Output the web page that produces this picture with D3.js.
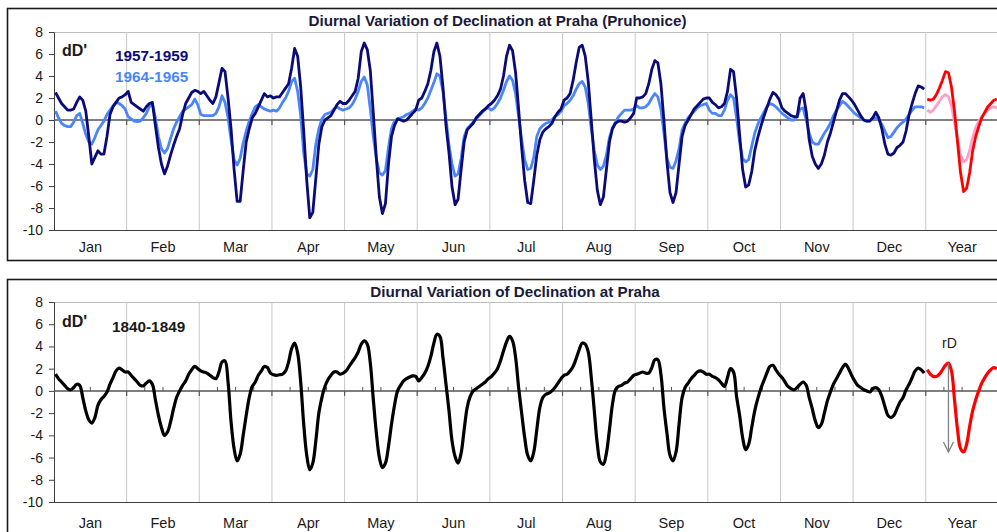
<!DOCTYPE html>
<html>
<head>
<meta charset="utf-8">
<script src="https://cdn.jsdelivr.net/npm/d3@7"></script>
<style>
  body { margin: 0; background: #fff; }
  svg { display: block; font-family: Arial, "Liberation Sans", sans-serif; }
</style>
</head>
<body>
<svg id="chart" width="997" height="532"></svg>
<script>
// month categories, 24 hourly values per month (+ yearly mean)
const months = ['Jan', 'Feb', 'Mar', 'Apr', 'May', 'Jun', 'Jul', 'Aug', 'Sep', 'Oct', 'Nov', 'Dec', 'Year'];
const yTicks = [8, 6, 4, 2, 0, -2, -4, -6, -8, -10];

// 1957-1959, Pruhonice (dark blue), Jan..Dec
const dark5759 = [
  [2.5, 2.0, 1.5, 1.2, 0.9, 0.9, 1.0, 1.6, 2.1, 1.8, 0.8, -1.5, -4.0, -3.4, -2.8, -3.1, -3.1, -1.5, 0.5, 1.2, 1.6, 2.0, 2.1, 2.3],
  [2.6, 1.6, 1.4, 1.2, 1.0, 0.8, 1.2, 1.5, 1.6, -0.5, -2.5, -4.0, -4.9, -4.2, -3.2, -2.3, -1.5, -0.8, 0.5, 1.5, 2.0, 2.5, 2.7, 2.6],
  [2.4, 2.6, 2.2, 1.8, 1.5, 2.1, 3.4, 4.7, 4.4, 2.0, -0.8, -4.5, -7.4, -7.4, -4.6, -2.0, -0.8, 0.2, 0.6, 1.2, 1.8, 2.4, 2.1, 2.2],
  [2.0, 2.1, 2.1, 2.5, 2.9, 3.3, 4.7, 6.5, 5.8, 3.0, -1.0, -5.5, -8.9, -8.4, -5.3, -2.2, -0.6, 0.0, 0.2, 0.4, 0.9, 1.4, 1.7, 1.5],
  [1.5, 1.8, 2.2, 2.6, 3.8, 6.2, 7.0, 6.4, 4.5, 0.6, -3.5, -7.0, -8.5, -7.6, -4.0, -1.5, -0.5, 0.1, 0.0, -0.1, 0.0, 0.3, 0.6, 0.9],
  [1.8, 2.0, 2.6, 3.3, 4.5, 6.2, 7.0, 5.8, 3.0, -0.5, -3.0, -6.1, -7.7, -7.2, -4.5, -2.0, -0.9, -0.6, -0.3, 0.2, 0.5, 0.8, 1.0, 1.3],
  [1.5, 1.8, 2.2, 2.8, 4.0, 5.8, 6.8, 6.3, 4.3, 1.0, -2.5, -5.5, -7.5, -7.6, -5.5, -3.2, -1.8, -1.1, -0.8, -0.6, -0.3, 0.3, 0.7, 1.0],
  [1.8, 2.0, 2.4, 3.6, 5.2, 6.6, 6.8, 5.8, 3.5, 0.0, -3.6, -6.4, -7.7, -7.0, -4.5, -2.0, -0.8, -0.3, -0.1, -0.1, -0.2, -0.1, 0.2, 0.6],
  [2.0, 2.0, 2.1, 2.4, 3.3, 4.6, 5.4, 5.2, 3.3, 0.0, -3.8, -6.6, -7.5, -6.6, -4.0, -1.5, -0.5, 0.0, 0.5, 1.0, 1.3, 1.6, 1.9, 2.0],
  [2.0, 1.6, 1.4, 1.1, 1.2, 1.5, 2.6, 4.6, 4.4, 2.0, -1.3, -4.5, -6.1, -5.9, -4.7, -2.8, -1.6, -0.6, 0.3, 1.1, 1.9, 2.5, 2.3, 1.9],
  [1.1, 0.8, 0.6, 0.4, 0.3, 0.3, 2.0, 2.4, 0.8, -1.8, -3.3, -4.0, -4.4, -4.0, -3.2, -2.0, -1.2, -0.2, 0.8, 1.8, 2.4, 2.4, 2.1, 1.8],
  [1.4, 0.9, 0.4, 0.0, -0.1, -0.1, 0.2, 0.7, 0.2, -0.8, -2.2, -3.1, -3.2, -3.0, -2.5, -2.3, -2.0, -1.0, 0.5, 1.5, 2.4, 3.1, 3.0, 2.8]
];
const darkYear5759 = [1.9, 1.8, 1.9, 2.3, 2.9, 3.6, 4.4, 4.3, 3.0, 0.8, -2.0, -4.8, -6.5, -6.2, -4.8, -2.8, -1.5, -0.6, 0.2, 0.7, 1.2, 1.5, 1.8, 1.9];

// 1964-1965, Pruhonice (light blue), Jan..Dec
const light6465 = [
  [0.8, 0.2, -0.3, -0.5, -0.6, -0.6, -0.2, 0.4, 0.6, -0.3, -1.3, -2.0, -2.2, -1.6, -0.9, -0.5, -0.1, 0.5, 0.9, 1.3, 1.6, 1.5, 1.3, 1.0],
  [0.3, 0.1, -0.1, -0.15, -0.1, 0.2, 0.6, 1.2, 1.5, 0.2, -1.5, -2.6, -3.0, -2.6, -1.7, -0.8, -0.2, 0.3, 0.8, 1.0, 1.2, 1.4, 1.9, 1.4],
  [0.5, 0.4, 0.4, 0.4, 0.4, 0.6, 1.2, 2.2, 1.6, 0.2, -1.8, -3.6, -4.1, -3.5, -2.1, -1.0, -0.1, 0.6, 1.2, 1.4, 1.2, 1.0, 0.9, 0.8],
  [0.9, 0.8, 1.1, 1.6, 2.0, 2.6, 3.5, 3.8, 2.6, 0.4, -3.0, -4.9, -5.1, -4.5, -2.2, -0.8, 0.1, 0.5, 0.6, 0.7, 1.0, 1.2, 1.0, 0.9],
  [1.0, 1.1, 1.4, 1.9, 2.6, 3.5, 3.9, 3.2, 1.0, -1.5, -3.5, -4.8, -5.0, -4.6, -2.5, -0.8, -0.1, 0.1, 0.2, 0.3, 0.5, 0.6, 0.8, 1.0],
  [0.9, 1.1, 1.5, 2.0, 2.7, 3.4, 4.2, 4.0, 2.6, 0.2, -2.3, -4.0, -5.1, -4.9, -3.5, -1.5, -0.8, -0.5, -0.2, 0.1, 0.4, 0.7, 1.0, 1.1],
  [0.9, 1.1, 1.5, 2.0, 2.7, 3.5, 4.0, 3.6, 2.4, 0.3, -1.8, -3.6, -4.5, -4.4, -3.4, -1.5, -0.8, -0.5, -0.3, -0.2, 0.0, 0.3, 0.5, 0.8],
  [1.3, 1.5, 1.8, 2.2, 2.8, 3.3, 3.5, 3.0, 1.5, -0.8, -2.8, -4.1, -4.5, -4.2, -3.2, -1.6, -0.7, -0.2, 0.3, 0.6, 0.9, 0.9, 0.9, 1.0],
  [1.3, 1.1, 1.1, 1.2, 1.5, 2.0, 2.4, 2.1, 1.0, -1.2, -3.5, -4.3, -4.4, -3.7, -2.6, -0.9, -0.3, 0.2, 0.5, 0.8, 1.1, 1.3, 1.4, 1.5],
  [0.9, 0.6, 0.6, 0.4, 0.4, 0.9, 1.8, 2.3, 2.0, 0.2, -2.0, -3.5, -3.8, -3.6, -2.4, -1.2, -0.4, 0.2, 0.7, 1.2, 1.5, 1.4, 1.2, 0.9],
  [0.6, 0.4, 0.2, 0.0, 0.0, 0.3, 1.0, 1.1, 0.0, -1.2, -2.0, -2.2, -2.2, -1.7, -1.2, -0.8, -0.3, 0.4, 0.9, 1.3, 1.7, 1.5, 1.2, 0.9],
  [0.6, 0.4, 0.2, 0.0, -0.1, -0.1, 0.2, 0.2, 0.0, -0.4, -1.0, -1.6, -1.5, -1.1, -0.7, -0.4, -0.2, 0.1, 0.5, 0.9, 1.2, 1.2, 1.2, 1.1]
];
const lightYear6465 = [0.9, 0.7, 0.9, 1.3, 1.7, 2.1, 2.3, 2.1, 1.3, -0.2, -1.8, -3.2, -3.8, -3.6, -2.8, -1.6, -0.7, -0.1, 0.3, 0.6, 0.9, 1.1, 1.2, 1.1];

// 1840-1849, Praha (black), Jan..Dec
const black1840 = [
  [1.5, 1.1, 0.8, 0.5, 0.2, 0.1, 0.3, 0.6, 0.5, -0.6, -1.8, -2.6, -2.9, -2.4, -1.3, -0.8, -0.5, -0.1, 0.6, 1.2, 1.8, 2.05, 1.9, 1.7],
  [1.7, 1.4, 1.1, 0.8, 0.5, 0.45, 0.7, 0.9, 0.6, -0.8, -2.2, -3.3, -4.0, -3.7, -2.8, -1.6, -0.6, 0.0, 0.5, 0.9, 1.5, 1.9, 2.2, 2.0],
  [1.8, 1.7, 1.6, 1.4, 1.2, 1.1, 1.7, 2.6, 2.7, 0.8, -2.8, -5.2, -6.3, -5.7, -4.0, -2.2, -0.6, 0.4, 0.8, 1.4, 1.8, 2.2, 2.1, 1.6],
  [1.45, 1.4, 1.45, 1.5, 1.8, 2.6, 3.8, 4.3, 3.4, 0.8, -3.0, -5.8, -7.1, -6.5, -4.5, -2.0, -0.6, 0.4, 1.0, 1.4, 1.7, 1.7, 1.5, 1.6],
  [1.8, 2.2, 2.6, 3.0, 3.5, 4.2, 4.5, 4.2, 2.5, -0.8, -3.8, -6.0, -6.9, -6.5, -5.0, -3.0, -1.3, 0.0, 0.5, 0.9, 1.1, 1.25, 1.35, 1.3],
  [0.9, 1.2, 1.6, 2.2, 3.1, 4.3, 5.1, 4.9, 3.0, 0.6, -1.8, -4.5, -5.9, -6.5, -5.6, -3.5, -1.5, -0.5, 0.0, 0.2, 0.4, 0.6, 0.8, 1.1],
  [1.3, 1.6, 2.0, 2.7, 3.6, 4.4, 4.9, 4.5, 3.0, 0.3, -2.0, -4.2, -5.8, -6.3, -5.5, -3.5, -1.5, -0.6, -0.3, -0.2, 0.0, 0.3, 0.7, 1.1],
  [1.4, 1.5, 1.8, 2.2, 2.9, 3.7, 4.3, 4.2, 3.5, 1.2, -1.8, -4.8, -6.4, -6.6, -5.6, -3.5, -1.2, 0.1, 0.4, 0.5, 0.7, 0.8, 1.1, 1.4],
  [1.5, 1.6, 1.7, 1.6, 1.6, 2.1, 2.8, 2.8, 1.5, -1.5, -3.8, -5.8, -6.3, -5.5, -3.0, -0.6, 0.3, 0.7, 1.1, 1.4, 1.7, 1.8, 1.7, 1.5],
  [1.5, 1.3, 1.2, 1.0, 0.7, 0.4, 1.2, 2.0, 1.7, -0.5, -2.2, -4.2, -5.3, -4.8, -3.3, -1.8, -0.7, 0.2, 0.9, 1.6, 2.2, 2.3, 1.9, 1.5],
  [1.2, 0.8, 0.4, 0.2, 0.1, 0.3, 0.6, 0.8, 0.5, -0.6, -1.6, -2.7, -3.3, -3.0, -2.0, -0.9, -0.1, 0.6, 1.1, 1.6, 2.1, 2.4, 2.0, 1.4],
  [0.9, 0.5, 0.3, 0.1, 0.0, -0.1, 0.2, 0.3, 0.1, -0.5, -1.4, -2.2, -2.4, -2.2, -1.6, -1.0, -0.6, 0.1, 0.6, 1.2, 1.8, 2.05, 1.9, 1.6]
];
const blackYear1840 = [1.9, 1.5, 1.3, 1.3, 1.5, 1.9, 2.3, 2.5, 1.8, -0.8, -3.5, -5.2, -5.5, -4.8, -3.2, -1.8, -0.8, 0.0, 0.7, 1.2, 1.6, 1.9, 2.1, 2.0];

const svg = d3.select('#chart');

const x0 = 54, x1 = 998.4;
const xBand = d3.scaleBand().domain(months).range([x0, x1]).padding(0);
const bw = xBand.bandwidth();
// x position of hour h of a given month
const xAt = (m, h) => xBand(m) + (h + 0.5) / 24 * bw;

function toPoints(rows, monthList) {
  const pts = [];
  rows.forEach((row, i) => row.forEach((v, h) => pts.push([xAt(monthList[i], h), v])));
  return pts;
}

function panel(opt) {
  const y = d3.scaleLinear().domain([-10, 8]).range([opt.bottom, opt.top]);
  const g = svg.append('g');

  // outer chart frame
  g.append('rect')
    .attr('x', 7.5).attr('y', opt.boxTop)
    .attr('width', 1010).attr('height', opt.boxH)
    .attr('fill', 'none').attr('stroke', '#1a1a1a').attr('stroke-width', 1.6);

  g.append('text')
    .attr('x', opt.titleX).attr('y', opt.titleY)
    .attr('text-anchor', 'middle')
    .style('font-size', '15.2px').style('font-weight', 'bold').attr('fill', '#1a1a3a')
    .text(opt.title);

  // plot area top border
  g.append('line')
    .attr('x1', x0).attr('x2', x1 + 5).attr('y1', opt.top + 0.5).attr('y2', opt.top + 0.5)
    .attr('stroke', '#bdbdbd');

  // month gridlines
  g.selectAll('.grid').data(months.slice(1)).join('line')
    .attr('x1', d => xBand(d)).attr('x2', d => xBand(d))
    .attr('y1', opt.top).attr('y2', opt.bottom)
    .attr('stroke', '#c8c8c8').attr('stroke-width', 1);

  // plot area bottom border
  g.append('line')
    .attr('x1', x0).attr('x2', x1 + 5).attr('y1', opt.bottom + 0.5).attr('y2', opt.bottom + 0.5)
    .attr('stroke', '#404040');

  // y axis
  const yAxis = g.append('g')
    .attr('transform', `translate(${x0},0)`)
    .call(d3.axisLeft(y).tickValues(yTicks).tickSize(5).tickPadding(6).tickFormat(d => String(d)));
  yAxis.select('.domain').attr('stroke', '#404040');
  yAxis.selectAll('.tick line').attr('stroke', '#404040');
  yAxis.selectAll('.tick text').style('font-size', '14px').attr('fill', '#1a1a1a').attr('font-family', 'Arial, "Liberation Sans", sans-serif');

  // zero line with month ticks
  g.append('line')
    .attr('x1', x0).attr('x2', x1 + 5).attr('y1', y(0)).attr('y2', y(0))
    .attr('stroke', '#555').attr('stroke-width', 1.5);
  g.selectAll('.mtick').data(months.slice(1)).join('line')
    .attr('x1', d => xBand(d)).attr('x2', d => xBand(d))
    .attr('y1', y(0)).attr('y2', y(0) + 5)
    .attr('stroke', '#555').attr('stroke-width', 1.2);
  if (opt.minorTicks) {
    const minor = [];
    months.forEach(m => [6, 12, 18].forEach(h => minor.push(xBand(m) + h / 24 * bw)));
    g.selectAll('.ntick').data(minor).join('line')
      .attr('x1', d => d).attr('x2', d => d)
      .attr('y1', y(0)).attr('y2', y(0) - 4)
      .attr('stroke', '#555').attr('stroke-width', 1);
  }

  // month labels
  g.selectAll('.mlab').data(months).join('text')
    .attr('x', d => xBand(d) + bw / 2).attr('y', opt.labelY)
    .attr('text-anchor', 'middle')
    .style('font-size', '14.5px').attr('fill', '#1a1a1a')
    .text(d => d);

  return { g, y };
}

// ---- top panel: Pruhonice ----
const upper = panel({
  boxTop: 8.5, boxH: 252, top: 32, bottom: 230,
  title: 'Diurnal Variation of Declination at Praha (Pruhonice)', titleX: 497.5, titleY: 25.5,
  labelY: 251.5, minorTicks: false
});
const lineUpper = d3.line().x(d => d[0]).y(d => upper.y(d[1])).curve(d3.curveLinear);
const monthsOnly = months.slice(0, 12);

upper.g.append('path').datum(toPoints(light6465, monthsOnly))
  .attr('d', lineUpper).attr('fill', 'none').attr('stroke', '#4a86f7').attr('stroke-width', 2.8).attr('stroke-linejoin', 'round');
upper.g.append('path').datum(toPoints(dark5759, monthsOnly))
  .attr('d', lineUpper).attr('fill', 'none').attr('stroke', '#0a0a78').attr('stroke-width', 2.8).attr('stroke-linejoin', 'round');
upper.g.append('path').datum(toPoints([lightYear6465], ['Year']))
  .attr('d', lineUpper).attr('fill', 'none').attr('stroke', '#ff9fc8').attr('stroke-width', 2.8).attr('stroke-linejoin', 'round');
upper.g.append('path').datum(toPoints([darkYear5759], ['Year']))
  .attr('d', lineUpper).attr('fill', 'none').attr('stroke', '#ff0000').attr('stroke-width', 2.8).attr('stroke-linejoin', 'round');

upper.g.append('text').attr('x', 62).attr('y', 56)
  .style('font-size', '16px').style('font-weight', 'bold').attr('fill', '#1a1a1a').text("dD'");
upper.g.append('text').attr('x', 115).attr('y', 60.5)
  .style('font-size', '15.3px').style('font-weight', 'bold').attr('fill', '#0a0a78').text('1957-1959');
upper.g.append('text').attr('x', 115).attr('y', 82)
  .style('font-size', '15.3px').style('font-weight', 'bold').attr('fill', '#4a86f7').text('1964-1965');

// ---- bottom panel: Praha ----
const lower = panel({
  boxTop: 279.5, boxH: 300, top: 302, bottom: 502,
  title: 'Diurnal Variation of Declination at Praha', titleX: 515, titleY: 296.5,
  labelY: 527.5, minorTicks: true
});
const lineLower = d3.line().x(d => d[0]).y(d => lower.y(d[1])).curve(d3.curveCatmullRom.alpha(0.5));

lower.g.append('path').datum(toPoints(black1840, monthsOnly))
  .attr('d', lineLower).attr('fill', 'none').attr('stroke', '#000').attr('stroke-width', 3.2).attr('stroke-linejoin', 'round');
lower.g.append('path').datum(toPoints([blackYear1840], ['Year']))
  .attr('d', lineLower).attr('fill', 'none').attr('stroke', '#ff0000').attr('stroke-width', 3.2).attr('stroke-linejoin', 'round');

lower.g.append('text').attr('x', 62).attr('y', 327)
  .style('font-size', '16px').style('font-weight', 'bold').attr('fill', '#1a1a1a').text("dD'");
lower.g.append('text').attr('x', 112).attr('y', 331.5)
  .style('font-size', '15.3px').style('font-weight', 'bold').attr('fill', '#1a1a1a').text('1840-1849');

// range arrow rD: from yearly max to yearly min
const hMax = d3.maxIndex(blackYear1840);
const arrowX = xAt('Year', hMax);
const arrowTop = lower.y(d3.max(blackYear1840));
const arrowBot = lower.y(d3.min(blackYear1840));
lower.g.append('line').attr('x1', arrowX).attr('x2', arrowX).attr('y1', arrowTop).attr('y2', arrowBot)
  .attr('stroke', '#7f7f7f').attr('stroke-width', 1.3);
lower.g.append('path')
  .attr('d', `M${arrowX - 5},${arrowBot - 10}L${arrowX},${arrowBot}L${arrowX + 5},${arrowBot - 10}`)
  .attr('fill', 'none').attr('stroke', '#7f7f7f').attr('stroke-width', 1.3);
lower.g.append('text').attr('x', arrowX + 1).attr('y', arrowTop - 15)
  .attr('text-anchor', 'middle').style('font-size', '14px').attr('fill', '#1a1a1a').text('rD');
</script>
</body>
</html>
